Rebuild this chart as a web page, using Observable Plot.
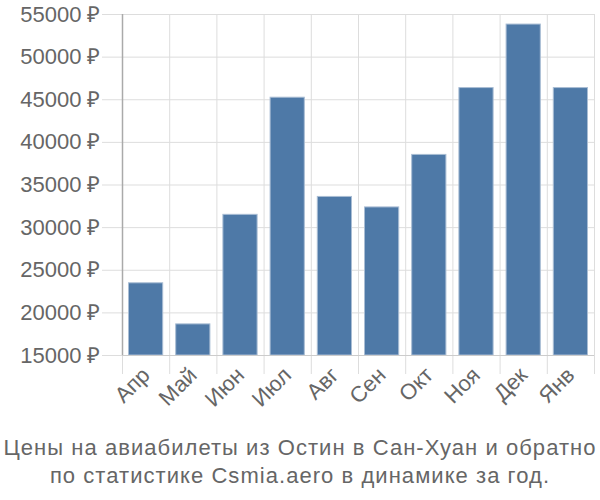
<!DOCTYPE html>
<html>
<head>
<meta charset="utf-8">
<script src="https://cdn.jsdelivr.net/npm/d3@7"></script>
<script src="https://cdn.jsdelivr.net/npm/@observablehq/plot@0.6"></script>
<style>
  html, body { margin: 0; padding: 0; background: #fff; }
  #chart { width: 600px; }
  .caption { font-family: "Liberation Sans", Arial, sans-serif; font-size: 22px; letter-spacing: 1.05px; color: #666; text-align: center; line-height: 28px; margin-top: 4px; white-space: nowrap; }
  #chart svg text { font-size: 22px; }
</style>
</head>
<body>
<div id="chart"></div>
<script>
const months = ["Апр", "Май", "Июн", "Июл", "Авг", "Сен", "Окт", "Ноя", "Дек", "Янв"];
const prices = [23470, 18650, 31500, 45240, 33600, 32370, 38530, 46370, 53820, 46370];
const yTicks = [15000, 20000, 25000, 30000, 35000, 40000, 45000, 50000, 55000];
const captionLines = ["Цены на авиабилеты из Остин в Сан-Хуан и обратно", "по статистике Csmia.aero в динамике за год."];

const data = months.map((m, i) => ({ month: m, i, price: prices[i] }));
const bounds = d3.range(months.length + 1);

const chart = Plot.plot({
  width: 600,
  height: 430,
  marginLeft: 122,
  marginRight: 6,
  marginTop: 14,
  marginBottom: 75,
  style: { fontFamily: "'Liberation Sans', Arial, sans-serif", fontSize: "22px", color: "#666", background: "#fff" },
  x: { type: "linear", domain: [0, months.length] },
  y: { domain: [15000, 55000] },
  marks: [
    Plot.gridX(bounds, { stroke: "#ddd", strokeOpacity: 1, strokeWidth: 1 }),
    Plot.gridY(yTicks, { stroke: "#ddd", strokeOpacity: 1, strokeWidth: 1 }),
    Plot.axisY(yTicks, { tickSize: 20, tickPadding: 2, stroke: "#ddd", tickFormat: d => d + " ₽", fontSize: 22, fill: "#666", label: null }),
    Plot.axisX(bounds, { tickSize: 19, tickFormat: () => "", stroke: "#ddd", label: null }),
    Plot.axisX(data.map(d => d.i + 0.5), { tickSize: 0, tickPadding: 16, tickRotate: -45, tickFormat: v => months[Math.floor(v)], fontSize: 22, fill: "#666", label: null }),
    Plot.rectY(data, { x1: "i", x2: d => d.i + 1, y1: 15000, y2: "price", fill: "#4e79a7", stroke: "#a9bdd4", strokeWidth: 1, insetLeft: 6.5, insetRight: 6.5 }),
    Plot.ruleY([15000], { stroke: "#ccc" }),
    Plot.ruleX([0], { stroke: "#aaa", strokeWidth: 1.5 })
  ]
});
document.getElementById("chart").appendChild(chart);
const cap = document.createElement("div");
cap.className = "caption";
cap.innerHTML = captionLines.join("<br>");
document.getElementById("chart").appendChild(cap);
</script>
</body>
</html>
